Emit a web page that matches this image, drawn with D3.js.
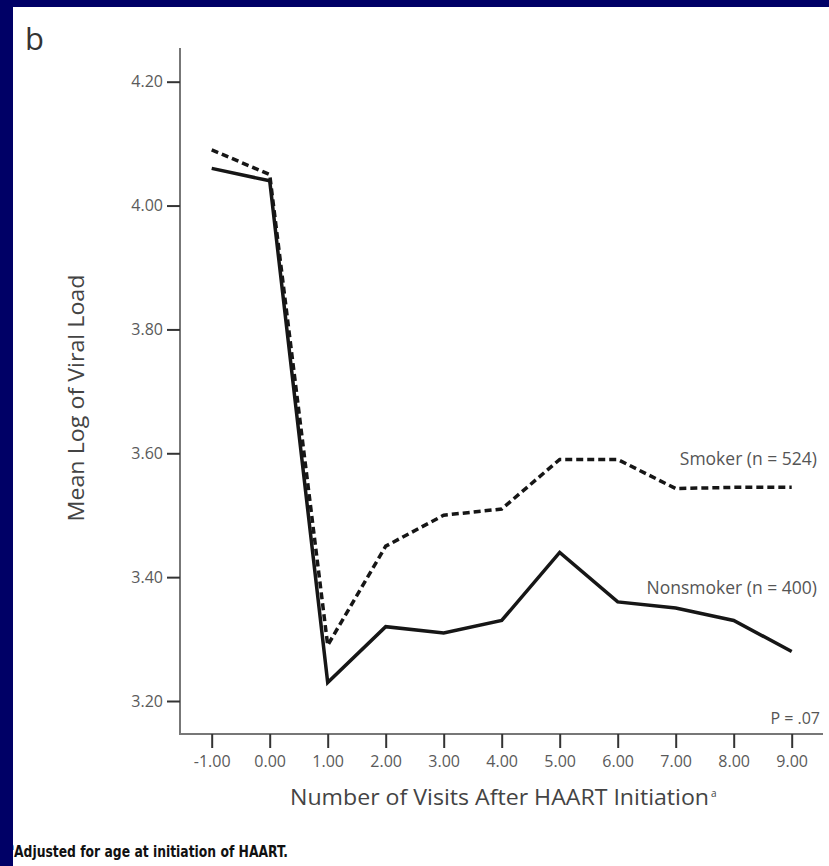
<!DOCTYPE html>
<html>
<head>
<meta charset="utf-8">
<script src="https://cdn.jsdelivr.net/npm/d3@7"></script>
<style>
  body { margin: 0; background: #ffffff; }
  svg { display: block; }
</style>
</head>
<body>
<script>
// slide size
var w = 829;
var h = 866;

// data: visits after HAART initiation, mean log viral load
var visits = [-1, 0, 1, 2, 3, 4, 5, 6, 7, 8, 9];
var smoker = [4.09, 4.05, 3.29, 3.45, 3.50, 3.51, 3.59, 3.59, 3.543, 3.545, 3.545];
var nonsmoker = [4.06, 4.04, 3.23, 3.32, 3.31, 3.33, 3.44, 3.36, 3.35, 3.33, 3.28];

// tick values
var xTicks = [-1, 0, 1, 2, 3, 4, 5, 6, 7, 8, 9];
var yTicks = [3.20, 3.40, 3.60, 3.80, 4.00, 4.20];

var labelFont = "'Open Sans', 'DejaVu Sans', sans-serif";

// plain hyphen for negatives (d3 uses a unicode minus)
function fmt(d) { return d.toFixed(2); }

var svg = d3.select("body").append("svg")
  .attr("width", w)
  .attr("height", h);

svg.append("rect")
  .attr("width", w)
  .attr("height", h)
  .attr("fill", "#ffffff");

// scales
var x = d3.scaleLinear().domain([-1, 9]).range([211.7, 791.7]);
var y = d3.scaleLinear().domain([3.20, 4.20]).range([701, 81.7]);

// axis lines (drawn longer than the tick range, like the original)
svg.append("line")
  .attr("x1", 180).attr("x2", 180)
  .attr("y1", 48).attr("y2", 735)
  .attr("stroke", "#777").attr("stroke-width", 2);
svg.append("line")
  .attr("x1", 179).attr("x2", 823)
  .attr("y1", 734).attr("y2", 734)
  .attr("stroke", "#777").attr("stroke-width", 2);

// y axis ticks + labels
var yAxis = svg.append("g")
  .attr("transform", "translate(180,0)")
  .call(d3.axisLeft(y)
    .tickValues(yTicks)
    .tickSize(13)
    .tickPadding(4)
    .tickFormat(fmt));
yAxis.select(".domain").remove();
yAxis.selectAll(".tick line").attr("stroke", "#333").attr("stroke-width", 2);
yAxis.selectAll(".tick text")
  .attr("font-family", labelFont)
  .attr("font-size", "16px")
  .attr("fill", "#5a5a5a");

// x axis ticks + labels
var xAxis = svg.append("g")
  .attr("transform", "translate(0,734)")
  .call(d3.axisBottom(x)
    .tickValues(xTicks)
    .tickSize(14)
    .tickPadding(8)
    .tickFormat(fmt));
xAxis.select(".domain").remove();
xAxis.selectAll(".tick line").attr("stroke", "#333").attr("stroke-width", 2);
xAxis.selectAll(".tick text")
  .attr("font-family", labelFont)
  .attr("font-size", "16px")
  .attr("fill", "#5a5a5a");

// lines
var line = d3.line()
  .x(function(d, i) { return x(visits[i]); })
  .y(function(d) { return y(d); });

svg.append("path")
  .datum(nonsmoker)
  .attr("d", line)
  .attr("fill", "none")
  .attr("stroke", "#161616")
  .attr("stroke-width", 3.5)
  .attr("stroke-linejoin", "miter");

svg.append("path")
  .datum(smoker)
  .attr("d", line)
  .attr("fill", "none")
  .attr("stroke", "#161616")
  .attr("stroke-width", 3.5)
  .attr("stroke-dasharray", "7,4");

// series labels
svg.append("text")
  .attr("x", 817).attr("y", 465)
  .attr("text-anchor", "end")
  .attr("font-family", labelFont)
  .attr("font-size", "17.5px")
  .attr("fill", "#555")
  .text("Smoker (n = 524)");
svg.append("text")
  .attr("x", 817).attr("y", 594)
  .attr("text-anchor", "end")
  .attr("font-family", labelFont)
  .attr("font-size", "17.5px")
  .attr("fill", "#555")
  .text("Nonsmoker (n = 400)");

// p value
svg.append("text")
  .attr("x", 820).attr("y", 724)
  .attr("text-anchor", "end")
  .attr("font-family", labelFont)
  .attr("font-size", "16px")
  .attr("fill", "#555")
  .text("P = .07");

// axis titles
svg.append("text")
  .attr("transform", "translate(84,398) rotate(-90)")
  .attr("text-anchor", "middle")
  .attr("font-family", labelFont)
  .attr("font-size", "21px")
  .attr("fill", "#444")
  .attr("textLength", 247)
  .attr("lengthAdjust", "spacingAndGlyphs")
  .text("Mean Log of Viral Load");

var xt = svg.append("text")
  .attr("x", 290).attr("y", 805)
  .attr("font-family", labelFont)
  .attr("font-size", "21px")
  .attr("fill", "#444");
xt.append("tspan")
  .attr("textLength", 419)
  .attr("lengthAdjust", "spacingAndGlyphs")
  .text("Number of Visits After HAART Initiation");
xt.append("tspan").attr("x", 711).attr("font-size", "10px").attr("dy", -8).text("a");

// panel letter
svg.append("text")
  .attr("x", 25).attr("y", 50)
  .attr("font-family", labelFont)
  .attr("font-size", "31px")
  .attr("fill", "#333")
  .text("b");

// footnote
var fn = svg.append("text")
  .attr("x", 8).attr("y", 857)
  .attr("font-family", "'DejaVu Sans Condensed', 'DejaVu Sans', sans-serif")
  .attr("font-weight", "bold")
  .attr("font-size", "16px")
  .attr("fill", "#111");
fn.append("tspan").attr("font-size", "10px").attr("dy", -7).text("a");
fn.append("tspan").attr("x", 14).attr("dy", 7)
  .attr("textLength", 274)
  .attr("lengthAdjust", "spacingAndGlyphs")
  .text("Adjusted for age at initiation of HAART.");

// navy slide frame (top + left)
svg.append("rect").attr("x", 0).attr("y", 0).attr("width", w).attr("height", 7).attr("fill", "#000066");
svg.append("rect").attr("x", 0).attr("y", 0).attr("width", 13).attr("height", h).attr("fill", "#000066");
</script>
</body>
</html>
